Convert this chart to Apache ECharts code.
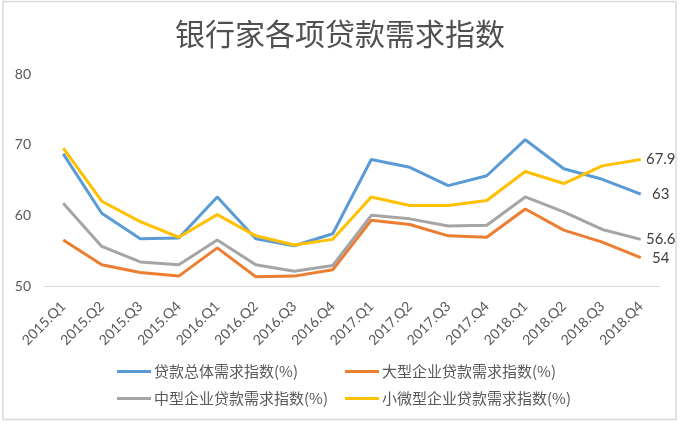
<!DOCTYPE html>
<html><head><meta charset="utf-8">
<script src="https://cdn.jsdelivr.net/npm/echarts@6/dist/echarts.min.js"></script>
<style>html,body{margin:0;padding:0;background:#fff}#c{width:680px;height:424px}</style>
</head><body><div id="c"></div>
<script>
const categories = ['2015.Q1','2015.Q2','2015.Q3','2015.Q4','2016.Q1','2016.Q2','2016.Q3','2016.Q4','2017.Q1','2017.Q2','2017.Q3','2017.Q4','2018.Q1','2018.Q2','2018.Q3','2018.Q4'];
const seriesNames = ['贷款总体需求指数(%)','大型企业贷款需求指数(%)','中型企业贷款需求指数(%)','小微型企业贷款需求指数(%)'];
const overall = [68.7,60.3,56.7,56.8,62.6,56.7,55.7,57.4,67.9,66.8,64.2,65.6,70.7,66.6,65.1,63];
const large   = [56.5,53.0,51.9,51.4,55.4,51.3,51.4,52.3,59.3,58.7,57.1,56.9,60.9,57.9,56.2,54];
const medium  = [61.7,55.6,53.4,53.0,56.5,53.0,52.1,52.9,60.0,59.5,58.5,58.6,62.6,60.5,58.0,56.6];
const small   = [69.5,62.0,59.1,56.9,60.1,57.1,55.8,56.6,62.6,61.4,61.4,62.1,66.2,64.5,67.0,67.9];
const yTicks = [50,60,70,80];
const colors = ['#5B9BD5','#ED7D31','#A5A5A5','#FFC000'];
const values = [overall, large, medium, small];

const chart = echarts.init(document.getElementById('c'));
const cjk = '"Noto Sans CJK SC", sans-serif';
const legendPos = [[117,364],[345,364],[117,391],[345,391]];
chart.setOption({
  animation: false,
  backgroundColor: '#fff',
  title: { text: '银行家各项贷款需求指数', left: 'center', top: 14,
    textStyle: { fontFamily: cjk, fontSize: 30, fontWeight: 'normal', color: '#505050' } },
  graphic: [{ type: 'rect', shape: { x: 3, y: 1.5, width: 673, height: 418 },
    style: { fill: 'none', stroke: '#d9d9d9', lineWidth: 1.5 }, silent: true }],
  legend: seriesNames.map((n, i) => ({
    data: [n], left: legendPos[i][0], top: legendPos[i][1], padding: 0,
    itemWidth: 34, itemHeight: 3, itemGap: 5, icon: 'rect',
    textStyle: { fontFamily: cjk, fontSize: 15, color: '#595959', padding: [0, 0, 0, -2] }
  })),
  grid: { left: 44, right: 20, top: 74, bottom: 138, containLabel: false },
  xAxis: { type: 'category', data: categories, boundaryGap: true,
    axisLine: { lineStyle: { color: '#d9d9d9', width: 1 } },
    axisTick: { show: false },
    axisLabel: { rotate: 45, interval: 0, fontFamily: 'Lato, sans-serif', fontSize: 14, color: '#595959', margin: 18 } },
  yAxis: { type: 'value', min: yTicks[0], max: yTicks[yTicks.length-1], interval: 10,
    axisLine: { show: false }, axisTick: { show: false }, splitLine: { show: false },
    axisLabel: { fontFamily: 'Lato, sans-serif', fontSize: 14, color: '#595959', margin: 13 } },
  series: seriesNames.map((n, i) => ({
    name: n, type: 'line', data: values[i], symbol: 'none',
    lineStyle: { width: 3, color: colors[i] }, itemStyle: { color: colors[i] },
    endLabel: { show: true, formatter: p => String(p.value), distance: 20, align: 'center',
      fontFamily: 'Lato, sans-serif', fontSize: 15, color: '#404040' }
  }))
});
</script></body></html>
